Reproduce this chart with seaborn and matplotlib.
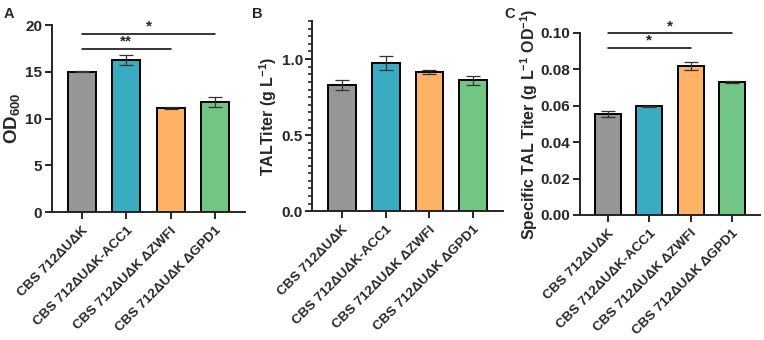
import numpy as np
import pandas as pd
import matplotlib
matplotlib.use('Agg')
import matplotlib.pyplot as plt
import seaborn as sns
from matplotlib.ticker import MultipleLocator, FormatStrFormatter

strains = ['CBS 712ΔUΔK', 'CBS 712ΔUΔK-ACC1', 'CBS 712ΔUΔK ΔZWFI', 'CBS 712ΔUΔK ΔGPD1']
colors = ['#969696', '#3aacc1', '#fdb265', '#72c685']

od600 = [15.0, 16.3, 11.15, 11.8]
od600_sd = [0.05, 0.55, 0.08, 0.5]

tal_titer = [0.83, 0.975, 0.915, 0.86]
tal_titer_sd = [0.033, 0.045, 0.015, 0.032]

spec_titer = [0.0553, 0.0597, 0.0820, 0.0732]
spec_titer_sd = [0.0017, 0.0002, 0.0022, 0.0005]

# significance brackets: (from bar, to bar, y, label)
sig_a = [(0, 3, 19.1, '*'), (0, 2, 17.5, '**')]
sig_c = [(0, 3, 0.1, '*'), (0, 2, 0.092, '*')]

sns.set_style('ticks')
plt.rcParams['font.family'] = ['Liberation Sans', 'DejaVu Sans']
plt.rcParams['font.weight'] = 'bold'
plt.rcParams['mathtext.fontset'] = 'custom'
plt.rcParams['mathtext.rm'] = 'Liberation Sans:bold'
plt.rcParams['mathtext.bf'] = 'Liberation Sans:bold'
plt.rcParams['mathtext.default'] = 'bf'

fig = plt.figure(figsize=(7.64, 3.40), dpi=100)
axA = fig.add_axes([0.068, 0.376, 0.253, 0.550])
axB = fig.add_axes([0.409, 0.379, 0.249, 0.559])
axC = fig.add_axes([0.759, 0.368, 0.236, 0.535])


def draw_panel(ax, vals, sds, ylabel, ymax, major, minor=None, sigs=None, ylsize=11.5):
    df = pd.DataFrame({'strain': strains, 'val': vals})
    sns.barplot(data=df, x='strain', y='val', hue='strain', palette=colors,
                saturation=1, errorbar=None, width=0.63, edgecolor='black',
                linewidth=1.4, legend=False, ax=ax)
    ax.errorbar(np.arange(len(vals)), vals, yerr=sds, fmt='none',
                ecolor='#333333', elinewidth=0.9, capsize=5, capthick=0.9)
    ax.set_xlim(-0.68, 3.68)
    ax.set_ylim(0, ymax)
    ax.yaxis.set_major_locator(MultipleLocator(major))
    if minor:
        ax.yaxis.set_minor_locator(MultipleLocator(minor))
        ax.tick_params(axis='y', which='minor', length=3, width=1.2)
    ax.set_xlabel('')
    ax.set_ylabel(ylabel, fontsize=ylsize, fontweight='bold', labelpad=2)
    ax.tick_params(axis='both', which='major', length=5, width=1.4,
                   labelsize=11, pad=2)
    ax.tick_params(axis='x', pad=4)
    ax.set_xticks(range(len(strains)))
    ax.set_xticklabels(strains, rotation=45, ha='right', rotation_mode='anchor',
                       fontsize=9.7, fontweight='bold')
    for lab in ax.get_yticklabels():
        lab.set_fontweight('bold')
    sns.despine(ax=ax)
    for s in ['left', 'bottom']:
        ax.spines[s].set_linewidth(1.4)
    if sigs:
        for x0, x1, y, txt in sigs:
            ax.plot([x0, x1], [y, y], color='black', lw=1.1, clip_on=False)
            ax.text((x0 + x1) / 2, y, txt, ha='center', va='bottom',
                    fontsize=11, fontweight='bold')


draw_panel(axA, od600, od600_sd, r'OD$_{600}$', 20, 5, sigs=sig_a, ylsize=13.5)
draw_panel(axB, tal_titer, tal_titer_sd, r'TALTiter (g L$^{-1}$)', 1.25, 0.5, minor=0.05)
draw_panel(axC, spec_titer, spec_titer_sd, r'Specific TAL Titer (g L$^{-1}$ OD$^{-1}$)',
           0.10, 0.02, sigs=sig_c)
axC.yaxis.set_major_formatter(FormatStrFormatter('%.2f'))
axC.yaxis.labelpad = 0

fig.text(0.005, 0.978, 'A', fontsize=10.5, fontweight='bold', va='top')
fig.text(0.330, 0.978, 'B', fontsize=10.5, fontweight='bold', va='top')
fig.text(0.660, 0.978, 'C', fontsize=10.5, fontweight='bold', va='top')

fig.savefig('out.png', dpi=100)
